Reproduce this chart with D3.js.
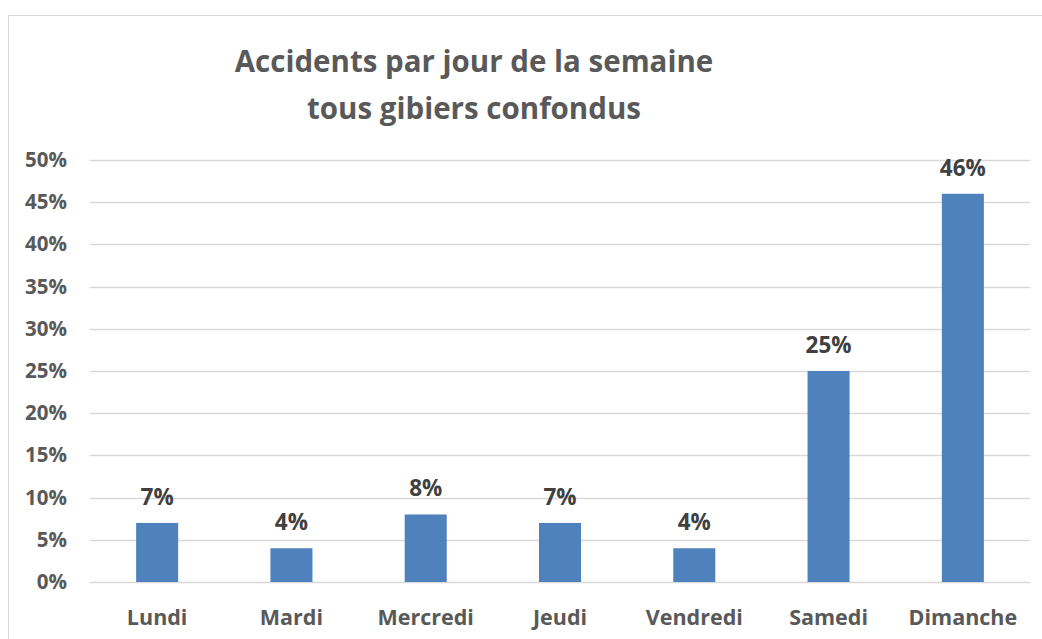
<!DOCTYPE html>
<html>
<head>
<meta charset="utf-8">
<script src="https://cdn.jsdelivr.net/npm/d3@7"></script>
<style>
  html, body { margin: 0; padding: 0; background: #fff; }
  svg { display: block; }
  text { font-family: "Open Sans", sans-serif; font-weight: bold; }
</style>
</head>
<body>
<svg id="chart" width="1042" height="639"></svg>
<script>
const categories = ["Lundi", "Mardi", "Mercredi", "Jeudi", "Vendredi", "Samedi", "Dimanche"];
const values = [0.07, 0.04, 0.08, 0.07, 0.04, 0.25, 0.46];
const yTicks = [0, 0.05, 0.10, 0.15, 0.20, 0.25, 0.30, 0.35, 0.40, 0.45, 0.50];
const titleLines = ["Accidents par jour de la semaine", "tous gibiers confondus"];

const svg = d3.select("#chart");
const FONT = "'Open Sans', sans-serif";

// chart frame (top and left edges visible, rest cropped)
svg.append("rect")
  .attr("x", 8.5).attr("y", 15.5)
  .attr("width", 1060).attr("height", 660)
  .attr("fill", "#fff").attr("stroke", "#d9d9d9").attr("stroke-width", 1);

const plot = { left: 90, right: 1030, top: 160, bottom: 582 };

const x = d3.scaleBand().domain(categories).range([plot.left, plot.right]).paddingInner(0.687).paddingOuter(0.3435);
const y = d3.scaleLinear().domain([0, 0.5]).range([plot.bottom, plot.top]);

// gridlines
svg.append("g").selectAll("line").data(yTicks).join("line")
  .attr("x1", plot.left).attr("x2", plot.right)
  .attr("y1", d => Math.round(y(d)) + 0.5).attr("y2", d => Math.round(y(d)) + 0.5)
  .attr("stroke", "#d9d9d9").attr("stroke-width", 1.3);

// y axis labels
const yAxis = d3.axisLeft(y).tickValues(yTicks).tickFormat(d3.format(".0%")).tickSize(0).tickPadding(0);
const ya = svg.append("g").attr("transform", `translate(67,0)`).call(yAxis);
ya.select(".domain").remove();
ya.selectAll("text").attr("font-size", 20.5).attr("fill", "#595959")
  .style("font-family", FONT).style("font-weight", "bold");

// bars
svg.append("g").selectAll("rect").data(values).join("rect")
  .attr("x", (d, i) => x(categories[i]))
  .attr("width", x.bandwidth())
  .attr("y", d => y(d))
  .attr("height", d => y(0) - y(d))
  .attr("fill", "#4f81bd");

// data labels
svg.append("g").selectAll("text").data(values).join("text")
  .attr("x", (d, i) => x(categories[i]) + x.bandwidth() / 2)
  .attr("y", d => y(d) - 18)
  .attr("text-anchor", "middle")
  .attr("font-size", 22.5).attr("fill", "#404040")
  .text(d => d3.format(".0%")(d));

// x axis labels
const xAxis = d3.axisBottom(x).tickSize(0).tickPadding(0);
const xa = svg.append("g").attr("transform", `translate(0,${plot.bottom})`).call(xAxis);
xa.select(".domain").remove();
xa.selectAll("text").attr("dy", null).attr("y", 43).attr("font-size", 21.5).attr("fill", "#595959")
  .style("font-family", FONT).style("font-weight", "bold");

// title
svg.append("g").selectAll("text").data(titleLines).join("text")
  .attr("x", 474).attr("y", (d, i) => 72 + i * 47)
  .attr("text-anchor", "middle")
  .attr("font-size", 29.5).attr("fill", "#595959")
  .text(d => d);
</script>
</body>
</html>
